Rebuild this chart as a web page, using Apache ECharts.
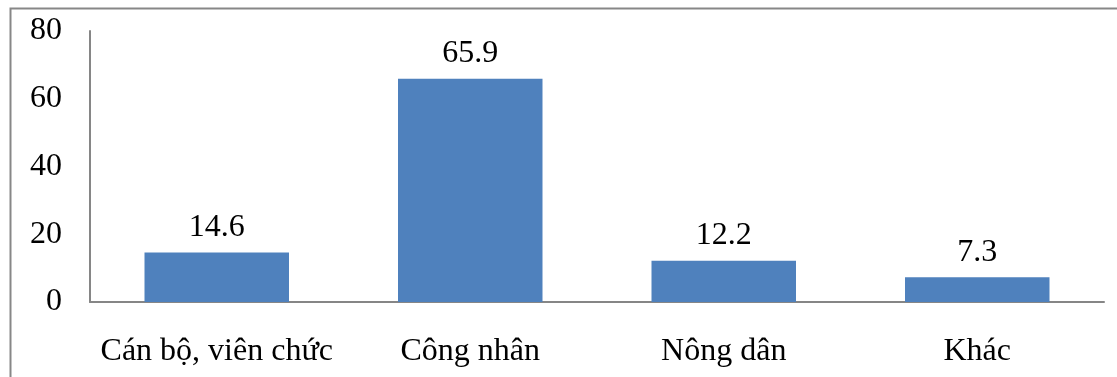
<!DOCTYPE html>
<html>
<head>
<meta charset="utf-8">
<style>
  html, body { margin: 0; padding: 0; background: #fff; }
  #main { width: 1117px; height: 377px; }
</style>
<script src="https://cdn.jsdelivr.net/npm/echarts@6/dist/echarts.min.js"></script>
</head>
<body>
<div id="main"></div>
<script>
// du lieu doc tu hinh
var categories = ['Cán bộ, viên chức', 'Công nhân', 'Nông dân', 'Khác'];
var values = [14.6, 65.9, 12.2, 7.3];
var yTicks = [0, 20, 40, 60, 80];

var font = '"Liberation Serif", "Times New Roman", serif';
var myChart = echarts.init(document.getElementById('main'));
myChart.setOption({
  animation: false,
  backgroundColor: '#fff',
  graphic: [{
    type: 'rect',
    shape: { x: 10.5, y: 8.5, width: 1200, height: 500 },
    style: { fill: 'none', stroke: '#878787', lineWidth: 2 },
    silent: true
  }],
  grid: { left: 90, right: 13, top: 31, bottom: 75 },
  xAxis: {
    type: 'category',
    data: categories,
    axisLine: { lineStyle: { color: '#868686', width: 2 } },
    axisTick: { show: false },
    axisLabel: { color: '#000', fontFamily: font, fontSize: 32, margin: 34, interval: 0 }
  },
  yAxis: {
    type: 'value',
    min: yTicks[0],
    max: yTicks[yTicks.length - 1],
    interval: 20,
    axisLine: { show: true, lineStyle: { color: '#868686', width: 2 } },
    axisTick: { show: false },
    splitLine: { show: false },
    axisLabel: { color: '#000', fontFamily: font, fontSize: 32, margin: 28 }
  },
  series: [{
    type: 'bar',
    data: values,
    barWidth: '57%',
    itemStyle: { color: '#4f81bd' },
    label: {
      show: true,
      position: 'top',
      distance: 9,
      color: '#000',
      fontFamily: font,
      fontSize: 32
    }
  }]
});
</script>
</body>
</html>
